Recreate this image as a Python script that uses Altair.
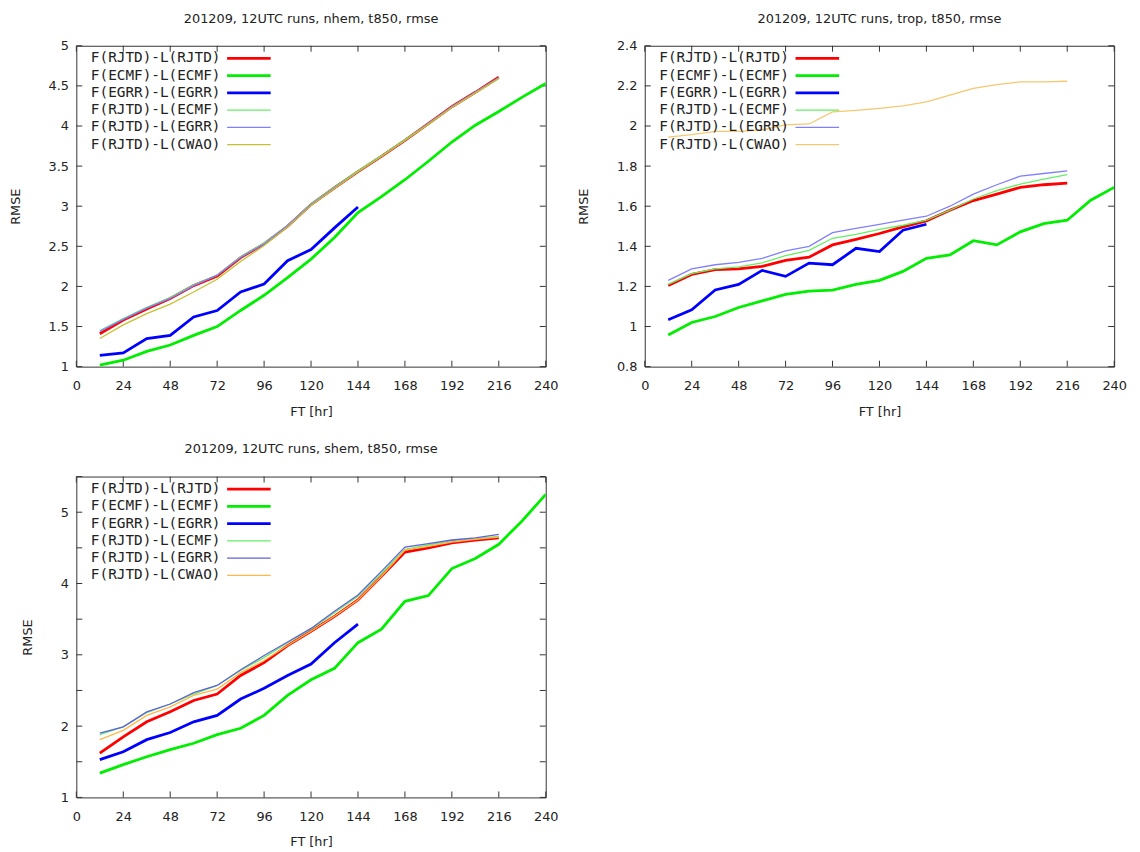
import altair as alt
import pandas as pd

# ---------------- data ----------------
series_names = ["F(RJTD)-L(RJTD)", "F(ECMF)-L(ECMF)", "F(EGRR)-L(EGRR)",
                "F(RJTD)-L(ECMF)", "F(RJTD)-L(EGRR)", "F(RJTD)-L(CWAO)"]
thick_names = series_names[:3]

ft_216 = list(range(12, 217, 12))
ft_240 = list(range(12, 241, 12))
ft_144 = list(range(12, 145, 12))

# nhem
nhem_rjtd = [1.41, 1.58, 1.72, 1.85, 2.01, 2.13, 2.36, 2.53, 2.75, 3.02, 3.23, 3.43, 3.62, 3.82, 4.03, 4.24, 4.42, 4.61]
nhem_ecmf = [1.02, 1.08, 1.19, 1.27, 1.39, 1.50, 1.70, 1.89, 2.11, 2.34, 2.61, 2.92, 3.12, 3.33, 3.56, 3.80, 4.01, 4.18, 4.36, 4.53]
nhem_egrr = [1.14, 1.17, 1.35, 1.39, 1.62, 1.70, 1.93, 2.03, 2.32, 2.46, 2.73, 2.99]
nhem_rjtd_ecmf = [1.45, 1.60, 1.74, 1.86, 2.02, 2.14, 2.37, 2.54, 2.76, 3.03, 3.24, 3.44, 3.63, 3.83, 4.03, 4.24, 4.42, 4.60]
nhem_rjtd_egrr = [1.44, 1.59, 1.73, 1.85, 2.01, 2.14, 2.36, 2.53, 2.76, 3.02, 3.23, 3.43, 3.62, 3.82, 4.03, 4.24, 4.42, 4.60]
nhem_rjtd_cwao = [1.35, 1.52, 1.66, 1.78, 1.93, 2.09, 2.31, 2.51, 2.74, 3.01, 3.22, 3.43, 3.62, 3.82, 4.02, 4.23, 4.41, 4.59]

# trop
trop_rjtd = [1.205, 1.26, 1.284, 1.287, 1.30, 1.33, 1.346, 1.407, 1.435, 1.464, 1.497, 1.527, 1.58, 1.628, 1.66, 1.694, 1.707, 1.715]
trop_ecmf = [0.958, 1.02, 1.05, 1.095, 1.128, 1.16, 1.177, 1.182, 1.21, 1.23, 1.275, 1.34, 1.357, 1.428, 1.407, 1.472, 1.513, 1.53, 1.63, 1.694]
trop_egrr = [1.034, 1.083, 1.182, 1.21, 1.28, 1.25, 1.316, 1.308, 1.39, 1.374, 1.48, 1.51]
trop_rjtd_ecmf = [1.21, 1.264, 1.288, 1.297, 1.317, 1.353, 1.38, 1.44, 1.46, 1.484, 1.505, 1.53, 1.58, 1.636, 1.678, 1.71, 1.735, 1.757]
trop_rjtd_egrr = [1.23, 1.287, 1.308, 1.32, 1.34, 1.377, 1.40, 1.468, 1.49, 1.509, 1.53, 1.55, 1.60, 1.66, 1.707, 1.75, 1.763, 1.776]
trop_rjtd_cwao = [1.944, 1.957, 1.973, 1.973, 1.98, 2.006, 2.01, 2.07, 2.078, 2.088, 2.10, 2.12, 2.154, 2.187, 2.206, 2.22, 2.22, 2.223]

# shem
shem_rjtd = [1.62, 1.85, 2.06, 2.20, 2.36, 2.45, 2.71, 2.89, 3.13, 3.33, 3.54, 3.77, 4.10, 4.44, 4.50, 4.57, 4.61, 4.64]
shem_ecmf = [1.34, 1.46, 1.57, 1.67, 1.76, 1.88, 1.97, 2.15, 2.43, 2.65, 2.81, 3.17, 3.36, 3.75, 3.83, 4.21, 4.35, 4.55, 4.88, 5.25]
shem_egrr = [1.53, 1.64, 1.81, 1.91, 2.06, 2.15, 2.38, 2.53, 2.71, 2.87, 3.17, 3.43]
shem_rjtd_ecmf = [1.88, 1.99, 2.19, 2.31, 2.45, 2.57, 2.78, 2.96, 3.17, 3.36, 3.59, 3.82, 4.14, 4.48, 4.54, 4.60, 4.63, 4.66]
shem_rjtd_egrr = [1.90, 1.99, 2.20, 2.31, 2.47, 2.57, 2.79, 2.99, 3.18, 3.37, 3.61, 3.84, 4.17, 4.51, 4.56, 4.61, 4.64, 4.69]
shem_rjtd_cwao = [1.81, 1.94, 2.15, 2.27, 2.43, 2.52, 2.75, 2.92, 3.13, 3.33, 3.54, 3.77, 4.10, 4.47, 4.52, 4.58, 4.62, 4.65]

x_ticks = list(range(0, 241, 24))
nhem_y_ticks = [1, 1.5, 2, 2.5, 3, 3.5, 4, 4.5, 5]
trop_y_ticks = [0.8, 1.0, 1.2, 1.4, 1.6, 1.8, 2.0, 2.2, 2.4]
shem_y_ticks = [1, 1.5, 2, 2.5, 3, 3.5, 4, 4.5, 5, 5.5]

# ---------------- styling ----------------
W, H = 474, 324
FONT = "DejaVu Sans"
TXT = "#222222"
THICK, THIN = 2.8, 1.3
thick_js = "[" + ",".join("'" + s + "'" for s in thick_names) + "]"


def make_df(lists):
    ft_lists = [ft_216, ft_240, ft_144, ft_216, ft_216, ft_216]
    rows = []
    for name, fts, vals in zip(series_names, ft_lists, lists):
        for f, v in zip(fts, vals):
            rows.append({"ft": f, "rmse": v, "series": name})
    return pd.DataFrame(rows)


def panel(title, lists, ydom, yticks, colors, title_offset):
    df = make_df(lists)
    xs = alt.Scale(domain=[0, 240], nice=False, zero=False)
    ys = alt.Scale(domain=ydom, nice=False, zero=False)
    leg = alt.Legend(title=None, orient="none", legendX=167, legendY=5.5,
                     symbolType="stroke", symbolSize=1936,
                     rowPadding=2.4, labelAlign="right", labelOffset={"expr": "-36"},
                     labelFont="DejaVu Sans Mono", labelFontSize=14.5,
                     labelColor=TXT, padding=0, labelLimit=300,
                     symbolStrokeWidth={"expr": "indexof(" + thick_js + ", datum.value) >= 0 ? %s : %s" % (THICK, THIN)})
    lines = alt.Chart(df).mark_line(clip=True).encode(
        x=alt.X("ft:Q", scale=xs,
                axis=alt.Axis(values=x_ticks, ticks=False, grid=False, domain=False,
                              labelPadding=13, title="FT [hr]", titlePadding=13,
                              labelFlush=False)),
        y=alt.Y("rmse:Q", scale=ys,
                axis=alt.Axis(values=yticks, ticks=False, grid=False, domain=False,
                              labelPadding=8, title="RMSE", titlePadding=26,
                              format="~g")),
        color=alt.Color("series:N", scale=alt.Scale(domain=series_names, range=colors),
                        legend=leg),
        strokeWidth=alt.condition(alt.FieldOneOfPredicate(field="series", oneOf=thick_names),
                                  alt.value(THICK), alt.value(THIN)),
        order=alt.Order("ft:Q"),
    )
    xt = pd.DataFrame({"ft": x_ticks})
    yt = pd.DataFrame({"rmse": yticks})
    xtick_b = alt.Chart(xt).mark_rule(color="#333", strokeWidth=1).encode(
        x=alt.X("ft:Q", scale=xs), y=alt.value(H), y2=alt.value(H - 6))
    xtick_t = alt.Chart(xt).mark_rule(color="#333", strokeWidth=1).encode(
        x=alt.X("ft:Q", scale=xs), y=alt.value(0), y2=alt.value(6))
    ytick_l = alt.Chart(yt).mark_rule(color="#333", strokeWidth=1).encode(
        y=alt.Y("rmse:Q", scale=ys), x=alt.value(0), x2=alt.value(6))
    ytick_r = alt.Chart(yt).mark_rule(color="#333", strokeWidth=1).encode(
        y=alt.Y("rmse:Q", scale=ys), x=alt.value(W), x2=alt.value(W - 6))
    return alt.layer(xtick_b, xtick_t, ytick_l, ytick_r, lines).properties(
        width=W, height=H,
        title=alt.TitleParams(title, font=FONT, fontSize=13, fontWeight="normal",
                              color=TXT, offset=title_offset),
    )


p1 = panel("201209, 12UTC runs, nhem, t850, rmse",
           [nhem_rjtd, nhem_ecmf, nhem_egrr, nhem_rjtd_ecmf, nhem_rjtd_egrr, nhem_rjtd_cwao],
           [1, 5], nhem_y_ticks,
           ["#ff0000", "#00ee00", "#0000ff", "#66ee66", "#8080ff", "#c8c030"], 14)
p2 = panel("201209, 12UTC runs, trop, t850, rmse",
           [trop_rjtd, trop_ecmf, trop_egrr, trop_rjtd_ecmf, trop_rjtd_egrr, trop_rjtd_cwao],
           [0.8, 2.4], trop_y_ticks,
           ["#ff0000", "#00ee00", "#0000ff", "#66ee66", "#8080ff", "#f5c870"], 14)
p3 = panel("201209, 12UTC runs, shem, t850, rmse",
           [shem_rjtd, shem_ecmf, shem_egrr, shem_rjtd_ecmf, shem_rjtd_egrr, shem_rjtd_cwao],
           [1, 5.5], shem_y_ticks,
           ["#ff0000", "#00ee00", "#0000ff", "#66ee66", "#6060e0", "#ffb848"], 20)

top_row = alt.hconcat(p1, p2, spacing=18).resolve_scale(color="independent")

chart = alt.vconcat(
    top_row,
    p3,
    spacing=24,
).resolve_scale(color="independent").properties(
    padding={"left": 0, "top": 0, "right": 5, "bottom": 0}
).configure_view(
    stroke="#333333", strokeWidth=1
).configure_axis(
    labelFont=FONT, labelFontSize=13, labelColor=TXT,
    titleFont=FONT, titleFontSize=13, titleColor=TXT, titleFontWeight="normal",
)

chart.save("out.html", embed_options={"renderer": "svg", "actions": False})
